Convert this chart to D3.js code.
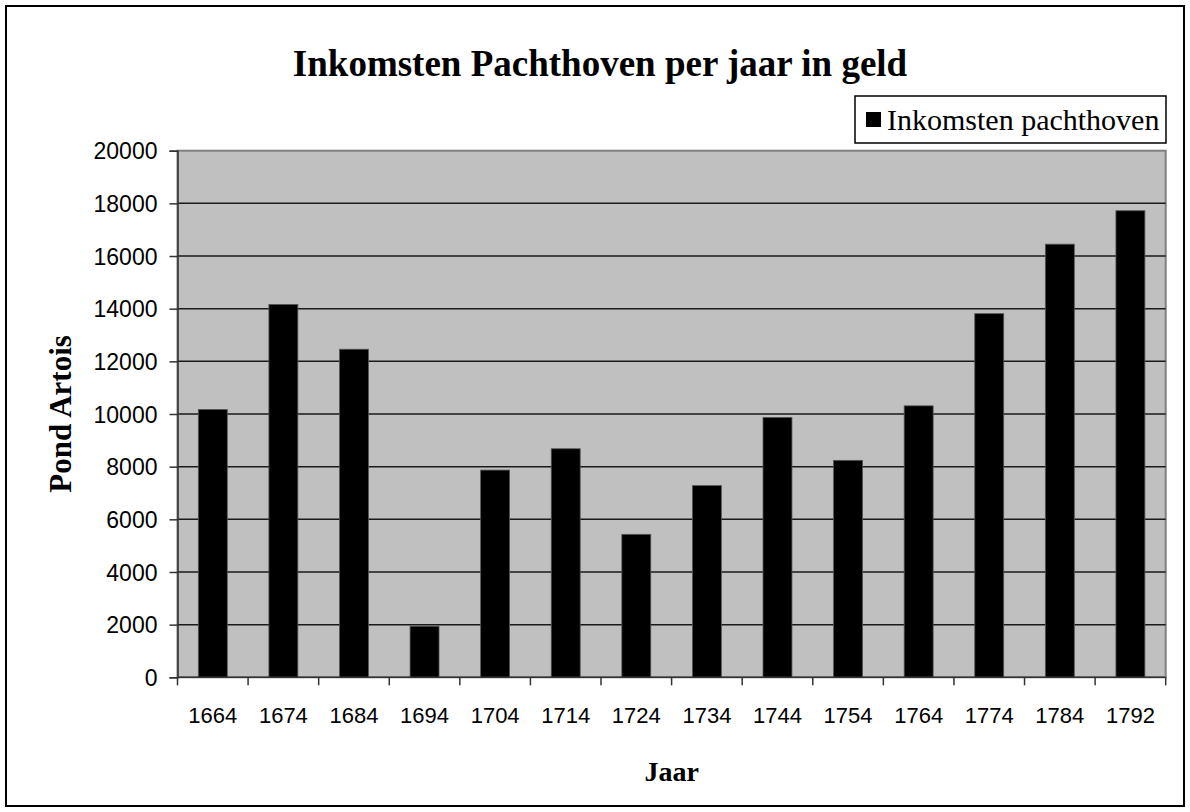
<html>
<script src='https://d3js.org/d3.v7.min.js'></script>
<style>
body {margin: 0; background: white;}
.ylab text {font-family: Arial, 'Liberation Sans', sans-serif; font-size: 23px;}
.xlab text {font-family: Arial, 'Liberation Sans', sans-serif; font-size: 22px;}
</style>
<body>
<svg width=1190 height=812>
</svg>
<script>
var years = ['1664','1674','1684','1694','1704','1714','1724','1734','1744','1754','1764','1774','1784','1792'];
var income = [10170,14160,12460,1940,7870,8680,5430,7280,9870,8240,10310,13810,16450,17720];
var yTicks = [0,2000,4000,6000,8000,10000,12000,14000,16000,18000,20000];
var seriesName = 'Inkomsten pachthoven';

var svg = d3.select("svg"),
    pLeft = 177.5, pRight = 1165.7, pTop = 150.7, pBottom = 677.3;

// chart frame
svg.append("rect")
    .attr("x", 6).attr("y", 6)
    .attr("width", 1178).attr("height", 800)
    .attr("fill", "white").attr("stroke", "black").attr("stroke-width", 2);

var x = d3.scaleBand().domain(years).range([pLeft, pRight]).paddingInner(0.59).paddingOuter(0.295);
var y = d3.scaleLinear().domain([0, 20000]).range([pBottom, pTop]);

// plot area
svg.append("rect")
    .attr("x", pLeft).attr("y", pTop)
    .attr("width", pRight - pLeft).attr("height", pBottom - pTop)
    .attr("fill", "#c0c0c0").attr("stroke", "#808080").attr("stroke-width", 2);

// gridlines
svg.append("g").selectAll("line")
    .data(yTicks.filter(function(d) { return d > 0 && d < 20000; }))
    .enter().append("line")
    .attr("x1", pLeft).attr("x2", pRight)
    .attr("y1", function(d) { return y(d); })
    .attr("y2", function(d) { return y(d); })
    .attr("stroke", "#1a1a1a").attr("stroke-width", 1.5);

// bars
svg.append("g").selectAll("rect")
    .data(income)
    .enter().append("rect")
    .attr("x", function(d, i) { return x(years[i]); })
    .attr("y", function(d) { return y(d); })
    .attr("width", x.bandwidth())
    .attr("height", function(d) { return pBottom - y(d); })
    .attr("fill", "black").attr("stroke", "#555").attr("stroke-width", 0.8);

// y axis
var yAxis = svg.append("g").attr("class", "ylab")
    .attr("transform", "translate(" + pLeft + ",0)")
    .call(d3.axisLeft(y).tickValues(yTicks).tickSize(8).tickPadding(12).tickFormat(d3.format("d")));
yAxis.select(".domain").attr("stroke", "#333").attr("stroke-width", 1.5);
yAxis.selectAll(".tick line").attr("stroke", "#333").attr("stroke-width", 1.5);
yAxis.selectAll("text").attr("fill", "black").attr("dy", "0.36em");

// x axis with ticks at category boundaries
var step = x.step();
var bounds = d3.range(years.length + 1).map(function(i) { return pLeft + i * step; });
svg.append("line")
    .attr("x1", pLeft).attr("x2", pRight).attr("y1", pBottom).attr("y2", pBottom)
    .attr("stroke", "#333").attr("stroke-width", 1.5);
svg.append("g").selectAll("line")
    .data(bounds).enter().append("line")
    .attr("x1", function(d) { return d; }).attr("x2", function(d) { return d; })
    .attr("y1", pBottom).attr("y2", pBottom + 8)
    .attr("stroke", "#333").attr("stroke-width", 1.5);
var xAxis = svg.append("g").attr("class", "xlab")
    .attr("transform", "translate(0," + pBottom + ")")
    .call(d3.axisBottom(x).tickSize(0).tickPadding(30));
xAxis.select(".domain").remove();
xAxis.selectAll("text").attr("fill", "black");

// titles
svg.append("text")
    .attr("x", 600).attr("y", 76)
    .attr("text-anchor", "middle")
    .style("font-family", "'Times New Roman', 'Liberation Serif', serif")
    .style("font-weight", "bold").style("font-size", "37px")
    .text("Inkomsten Pachthoven per jaar in geld");

svg.append("text")
    .attr("transform", "translate(71," + (pTop + pBottom) / 2 + ") rotate(-90)")
    .attr("text-anchor", "middle")
    .style("font-family", "'Times New Roman', 'Liberation Serif', serif")
    .style("font-weight", "bold").style("font-size", "31px")
    .text("Pond Artois");

svg.append("text")
    .attr("x", (pLeft + pRight) / 2).attr("y", 781)
    .attr("text-anchor", "middle")
    .style("font-family", "'Times New Roman', 'Liberation Serif', serif")
    .style("font-weight", "bold").style("font-size", "28px")
    .text("Jaar");

// legend
var lg = svg.append("g").attr("transform", "translate(855,96)");
lg.append("rect").attr("width", 311).attr("height", 47)
    .attr("fill", "white").attr("stroke", "black").attr("stroke-width", 1.5);
lg.append("rect").attr("x", 11).attr("y", 16).attr("width", 15).attr("height", 15).attr("fill", "black");
lg.append("text").attr("x", 32).attr("y", 34)
    .style("font-family", "'Times New Roman', 'Liberation Serif', serif")
    .style("font-size", "30px")
    .text(seriesName);
</script>
</body>
</html>
